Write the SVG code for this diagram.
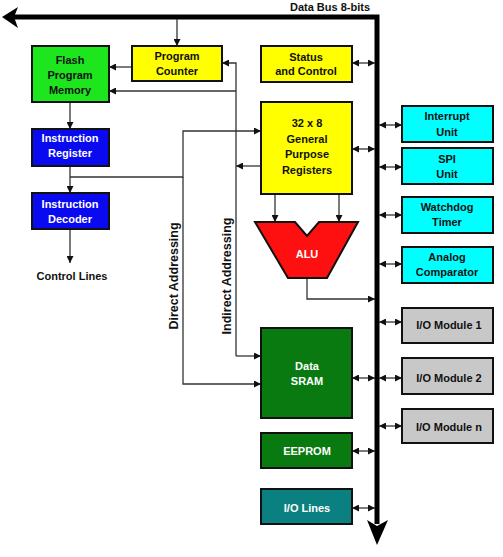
<svg xmlns="http://www.w3.org/2000/svg" width="503" height="557" viewBox="0 0 503 557">
<style>
  .box { stroke: #111; stroke-width: 2; }
  .t { font-family: "Liberation Sans", Arial, sans-serif; font-weight: bold; font-size: 11px; text-anchor: middle; fill: #111; }
  .r { font-size: 12.5px; }
  .w { fill: #fff; }
  .ln { fill: none; stroke: #333; stroke-width: 1.3; }
  .bus { fill: none; stroke: #000; stroke-width: 5; }
</style>
<defs>
  <marker id="ah" viewBox="0 0 10 10" refX="10" refY="5" markerWidth="7" markerHeight="7" markerUnits="userSpaceOnUse" orient="auto">
    <path d="M0,0 L10,5 L0,10 Z" fill="#111"/>
  </marker>
  <marker id="as" viewBox="0 0 10 10" refX="0" refY="5" markerWidth="7" markerHeight="7" markerUnits="userSpaceOnUse" orient="auto">
    <path d="M10,0 L0,5 L10,10 Z" fill="#111"/>
  </marker>
</defs>

<g id="connectors">
  <!-- data bus -->
  <path class="bus" d="M14,17 H377 V524"/>
  <polygon points="2,17 18,7 14,17 18,28" fill="#000"/>
  <polygon points="377,545 367,520 377,526 388,520" fill="#000"/>
  <!-- bus to PC -->
  <line class="ln" x1="177" y1="19" x2="177" y2="46" marker-end="url(#ah)"/>
  <!-- PC to flash -->
  <line class="ln" x1="132" y1="67" x2="109" y2="67" marker-end="url(#ah)"/>
  <!-- indirect addressing line -->
  <polyline class="ln" points="261,166 236,166" marker-end="url(#ah)"/>
  <polyline class="ln" points="236,356 236,63 222,63" marker-end="url(#ah)"/>
  <polyline class="ln" points="236,91 109,91" marker-end="url(#ah)"/>
  <polyline class="ln" points="236,356 261,356" marker-end="url(#ah)"/>
  <!-- flash to IR -->
  <line class="ln" x1="70" y1="102" x2="70" y2="129" marker-end="url(#ah)"/>
  <!-- IR to decoder -->
  <line class="ln" x1="70" y1="166" x2="70" y2="193" marker-end="url(#ah)"/>
  <!-- direct addressing -->
  <polyline class="ln" points="70,177 183,177 183,131 261,131" marker-end="url(#ah)"/>
  <polyline class="ln" points="183,177 183,384 261,384" marker-end="url(#ah)"/>
  <!-- decoder to control lines -->
  <line class="ln" x1="70" y1="229" x2="70" y2="263" marker-end="url(#ah)"/>
  <!-- GP to ALU -->
  <line class="ln" x1="275" y1="194" x2="275" y2="222" marker-end="url(#ah)"/>
  <line class="ln" x1="339" y1="194" x2="339" y2="222" marker-end="url(#ah)"/>
  <!-- ALU to bus -->
  <polyline class="ln" points="307,278 307,299 375,299" marker-end="url(#ah)"/>
  <!-- double arrows left side -->
  <line class="ln" x1="352" y1="63" x2="375" y2="63" marker-start="url(#as)" marker-end="url(#ah)"/>
  <line class="ln" x1="352" y1="149" x2="375" y2="149" marker-start="url(#as)" marker-end="url(#ah)"/>
  <line class="ln" x1="352" y1="378" x2="375" y2="378" marker-start="url(#as)" marker-end="url(#ah)"/>
  <line class="ln" x1="352" y1="451" x2="375" y2="451" marker-start="url(#as)" marker-end="url(#ah)"/>
  <line class="ln" x1="352" y1="508" x2="375" y2="508" marker-start="url(#as)" marker-end="url(#ah)"/>
  <!-- double arrows right side -->
  <line class="ln" x1="379" y1="125" x2="402" y2="125" marker-start="url(#as)" marker-end="url(#ah)"/>
  <line class="ln" x1="379" y1="167" x2="402" y2="167" marker-start="url(#as)" marker-end="url(#ah)"/>
  <line class="ln" x1="379" y1="215" x2="402" y2="215" marker-start="url(#as)" marker-end="url(#ah)"/>
  <line class="ln" x1="379" y1="264" x2="402" y2="264" marker-start="url(#as)" marker-end="url(#ah)"/>
  <line class="ln" x1="379" y1="322" x2="402" y2="322" marker-start="url(#as)" marker-end="url(#ah)"/>
  <line class="ln" x1="379" y1="378" x2="402" y2="378" marker-start="url(#as)" marker-end="url(#ah)"/>
  <line class="ln" x1="379" y1="426" x2="402" y2="426" marker-start="url(#as)" marker-end="url(#ah)"/>
</g>

<g id="labels">
  <text class="t" x="330" y="11">Data Bus 8-bits</text>
  <text class="t" x="72" y="280">Control Lines</text>
  <text class="t r" transform="translate(177.5,276) rotate(-90)">Direct Addressing</text>
  <text class="t r" transform="translate(230.5,276) rotate(-90)">Indirect Addressing</text>
</g>

<g id="flash">
  <rect class="box" x="32" y="46" width="77" height="56" fill="#1ee61e"/>
  <text class="t" x="70" y="64">Flash</text>
  <text class="t" x="70" y="79">Program</text>
  <text class="t" x="70" y="94">Memory</text>
</g>
<g id="pc">
  <rect class="box" x="132" y="46" width="90" height="35" fill="#ffff00"/>
  <text class="t" x="177" y="60">Program</text>
  <text class="t" x="177" y="75">Counter</text>
</g>
<g id="status">
  <rect class="box" x="261" y="46" width="91" height="36" fill="#ffff00"/>
  <text class="t" x="306" y="61">Status</text>
  <text class="t" x="306" y="75">and Control</text>
</g>
<g id="ir">
  <rect class="box" x="32" y="129" width="77" height="37" fill="#0a0af0"/>
  <text class="t w" x="70" y="142">Instruction</text>
  <text class="t w" x="70" y="157">Register</text>
</g>
<g id="decoder">
  <rect class="box" x="32" y="193" width="77" height="36" fill="#0a0af0"/>
  <text class="t w" x="70" y="208">Instruction</text>
  <text class="t w" x="70" y="223">Decoder</text>
</g>
<g id="gpr">
  <rect class="box" x="261" y="102" width="91" height="92" fill="#ffff00"/>
  <text class="t" x="307" y="127">32 x 8</text>
  <text class="t" x="307" y="143">General</text>
  <text class="t" x="307" y="158">Purpose</text>
  <text class="t" x="307" y="174">Registers</text>
</g>
<g id="alu">
  <polygon class="box" points="255,222 295,222 307,236 319,222 358,222 327,278 288,278" fill="#ff1010"/>
  <text class="t w" x="307" y="258">ALU</text>
</g>
<g id="sram">
  <rect class="box" x="261" y="328" width="91" height="90" fill="#087a10"/>
  <text class="t w" x="307" y="370">Data</text>
  <text class="t w" x="307" y="385">SRAM</text>
</g>
<g id="eeprom">
  <rect class="box" x="261" y="433" width="91" height="35" fill="#087a10"/>
  <text class="t w" x="307" y="455">EEPROM</text>
</g>
<g id="iolines">
  <rect class="box" x="261" y="489" width="91" height="35" fill="#0a8080"/>
  <text class="t w" x="307" y="512">I/O Lines</text>
</g>
<g id="interrupt">
  <rect class="box" x="402" y="106" width="91" height="36" fill="#00ffff"/>
  <text class="t" x="447" y="120">Interrupt</text>
  <text class="t" x="447" y="136">Unit</text>
</g>
<g id="spi">
  <rect class="box" x="402" y="148" width="91" height="36" fill="#00ffff"/>
  <text class="t" x="447" y="163">SPI</text>
  <text class="t" x="447" y="178">Unit</text>
</g>
<g id="watchdog">
  <rect class="box" x="402" y="197" width="91" height="36" fill="#00ffff"/>
  <text class="t" x="447" y="211">Watchdog</text>
  <text class="t" x="447" y="226">Timer</text>
</g>
<g id="analog">
  <rect class="box" x="402" y="247" width="91" height="36" fill="#00ffff"/>
  <text class="t" x="447" y="261">Analog</text>
  <text class="t" x="447" y="276">Comparator</text>
</g>
<g id="io1">
  <rect class="box" x="402" y="308" width="91" height="35" fill="#c8c8c8"/>
  <text class="t" x="449" y="329">I/O Module 1</text>
</g>
<g id="io2">
  <rect class="box" x="402" y="358" width="91" height="36" fill="#c8c8c8"/>
  <text class="t" x="449" y="382">I/O Module 2</text>
</g>
<g id="ion">
  <rect class="box" x="402" y="409" width="91" height="34" fill="#c8c8c8"/>
  <text class="t" x="449" y="431">I/O Module n</text>
</g>
</svg>
